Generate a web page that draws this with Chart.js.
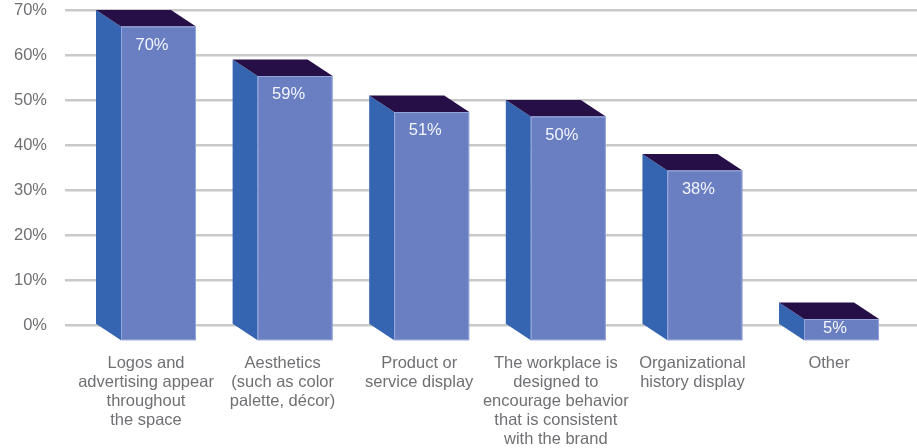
<!DOCTYPE html>
<html>
<head>
<meta charset="utf-8">
<script src="https://cdn.jsdelivr.net/npm/chart.js@4.4.1/dist/chart.umd.min.js"></script>
<style>
  html, body { margin: 0; padding: 0; background: #fff; }
  #wrap { width: 917px; height: 448px; }
</style>
</head>
<body>
<div id="wrap"><canvas id="graf"></canvas></div>
<script>
// Data z grafu
const kategorie = [
  ["Logos and", "advertising appear", "throughout", "the space"],
  ["Aesthetics", "(such as color", "palette, décor)"],
  ["Product or", "service display"],
  ["The workplace is", "designed to", "encourage behavior", "that is consistent", "with the brand"],
  ["Organizational", "history display"],
  ["Other"]
];
const hodnoty = [70, 59, 51, 50, 38, 5];
const popisky = ["70%", "59%", "51%", "50%", "38%", "5%"];
const osaY = [0, 10, 20, 30, 40, 50, 60, 70];

// Barvy kvádru
const barvaPredni = '#6a7fc1';
const barvaBok = '#3565b1';
const barvaVrch = '#260e46';
const sedaText = '#6f7073';
const pismo = "'Liberation Sans', Arial, sans-serif";

// hloubka 3D efektu (px)
const hloubkaX = 25;
const hloubkaY = 16.5;
const sirka = 75;

const body = hodnoty.map((v, i) => ({ x: i, y: v }));

// Plugin kreslí bok, vršek a čelo každého sloupce
const kvadr = {
  id: 'kvadr',
  afterDatasetsDraw(chart) {
    const ctx = chart.ctx;
    const meta = chart.getDatasetMeta(0);
    ctx.save();
    meta.data.forEach((bar, i) => {
      const w = bar.width;
      const zl = bar.x - w / 2 - hloubkaX / 2; // zadní levá hrana
      const yT = bar.y;
      const yB = bar.base;
      // bok
      ctx.fillStyle = barvaBok;
      ctx.beginPath();
      ctx.moveTo(zl, yT);
      ctx.lineTo(zl + hloubkaX, yT + hloubkaY);
      ctx.lineTo(zl + hloubkaX, yB + hloubkaY);
      ctx.lineTo(zl, yB);
      ctx.closePath();
      ctx.fill();
      // vršek
      ctx.fillStyle = barvaVrch;
      ctx.beginPath();
      ctx.moveTo(zl, yT);
      ctx.lineTo(zl + w, yT);
      ctx.lineTo(zl + w + hloubkaX, yT + hloubkaY);
      ctx.lineTo(zl + hloubkaX, yT + hloubkaY);
      ctx.closePath();
      ctx.fill();
      // čelo
      ctx.fillStyle = barvaPredni;
      ctx.fillRect(zl + hloubkaX, yT + hloubkaY, w, yB - yT);
      ctx.strokeStyle = 'rgba(160,175,225,0.8)';
      ctx.lineWidth = 1;
      ctx.strokeRect(zl + hloubkaX + 0.5, yT + hloubkaY + 0.5, w - 1, yB - yT - 1);
      // popisek
      const h = yB - yT;
      ctx.fillStyle = '#f4f5ff';
      ctx.font = '16.5px ' + pismo;
      ctx.textAlign = 'center';
      ctx.textBaseline = 'middle';
      ctx.fillText(popisky[i], bar.x + 6, yT + hloubkaY + Math.min(18.5, h / 2 - 1));
    });
    ctx.restore();
  }
};

new Chart(document.getElementById('graf').getContext('2d'), {
  type: 'bar',
  data: {
    datasets: [{
      data: body,
      backgroundColor: 'rgba(0,0,0,0)',
      barThickness: sirka
    }]
  },
  options: {
    responsive: true,
    maintainAspectRatio: false,
    animation: false,
    layout: { padding: { top: 10, left: 0, right: 0, bottom: 0 } },
    plugins: { legend: { display: false }, tooltip: { enabled: false } },
    scales: {
      x: {
        type: 'linear',
        offset: false,
        min: -0.593,
        max: 5.644,
        grid: { display: false },
        border: { display: false },
        afterBuildTicks: s => { s.ticks = kategorie.map((_, i) => ({ value: i })); },
        afterFit: s => { s.height = 123; },
        ticks: {
          autoSkip: false,
          maxRotation: 0,
          minRotation: 0,
          padding: 21,
          color: sedaText,
          font: { family: pismo, size: 16.5, lineHeight: 1.15 },
          callback: v => kategorie[v]
        }
      },
      y: {
        min: 0,
        max: 70,
        afterBuildTicks: s => { s.ticks = osaY.map(v => ({ value: v })); },
        afterFit: s => { s.width = 65; s.paddingTop = 0; },
        grid: { color: '#c9c9cc', lineWidth: 2.5, drawTicks: false },
        border: { display: false },
        ticks: {
          padding: 18,
          color: sedaText,
          font: { family: pismo, size: 16.5 },
          callback: v => v + '%'
        }
      }
    }
  },
  plugins: [kvadr]
});
</script>
</body>
</html>
